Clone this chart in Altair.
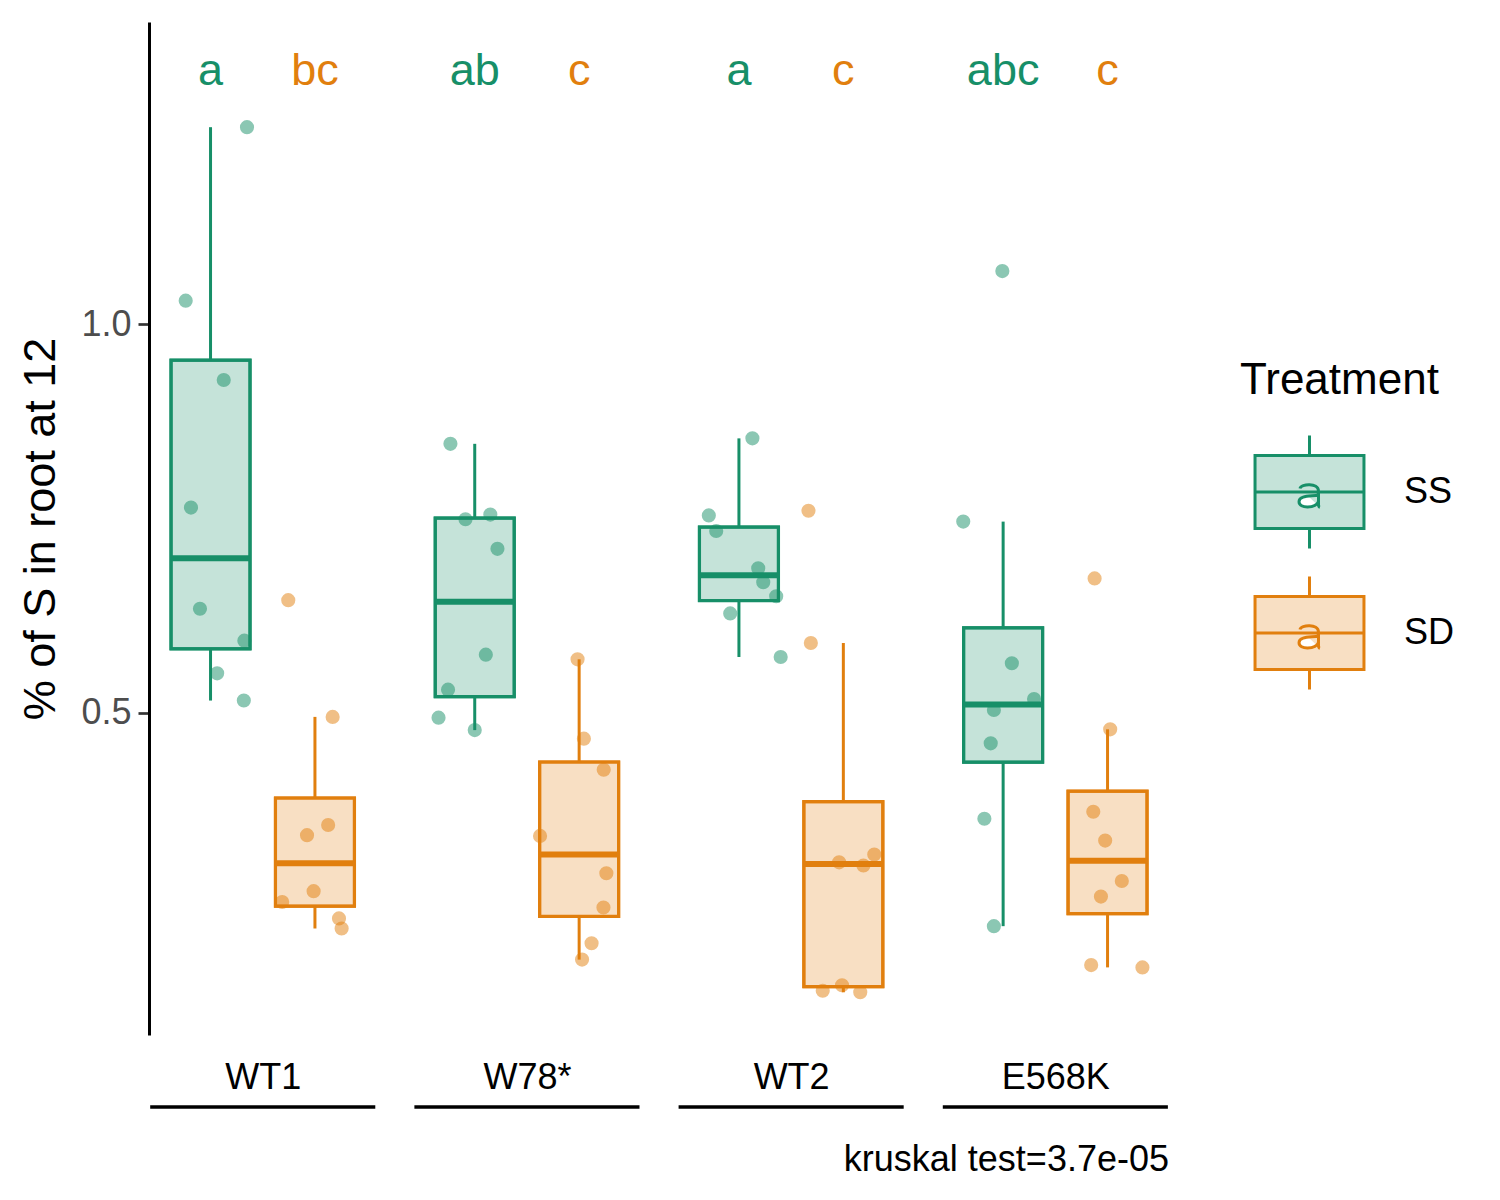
import altair as alt
import pandas as pd
import numpy as np

FONT = "Liberation Sans"

genotypes = ["WT1", "W78*", "WT2", "E568K"]
treatments = ["SS", "SD"]

wt1_ss = [1.253, 1.030, 0.928, 0.764, 0.634, 0.593, 0.551, 0.516]
wt1_ss_jit = [0.138, -0.094, 0.050, -0.074, -0.040, 0.128, 0.025, 0.126]
wt1_sd = [0.645, 0.495, 0.356, 0.343, 0.271, 0.257, 0.236, 0.223]
wt1_sd_jit = [-0.101, 0.067, 0.050, -0.030, -0.005, -0.124, 0.091, 0.101]
w78_ss = [0.846, 0.749, 0.755, 0.711, 0.575, 0.530, 0.494, 0.478]
w78_ss_jit = [-0.092, -0.035, 0.059, 0.086, 0.042, -0.101, -0.137, 0.000]
w78_sd = [0.569, 0.467, 0.427, 0.342, 0.294, 0.250, 0.204, 0.183]
w78_sd_jit = [-0.006, 0.018, 0.093, -0.148, 0.103, 0.092, 0.047, 0.011]
wt2_ss = [0.853, 0.754, 0.734, 0.686, 0.668, 0.650, 0.628, 0.572]
wt2_ss_jit = [0.051, -0.114, -0.086, 0.073, 0.092, 0.141, -0.033, 0.158]
wt2_sd = [0.760, 0.590, 0.308, 0.304, 0.318, 0.143, 0.150, 0.141]
wt2_sd_jit = [-0.132, -0.123, -0.016, 0.076, 0.117, -0.078, -0.005, 0.064]
e568k_ss = [1.068, 0.746, 0.564, 0.518, 0.504, 0.461, 0.364, 0.226]
e568k_ss_jit = [-0.003, -0.151, 0.033, 0.117, -0.035, -0.047, -0.071, -0.035]
e568k_sd = [0.673, 0.479, 0.373, 0.336, 0.284, 0.264, 0.176, 0.173]
e568k_sd_jit = [-0.049, 0.010, -0.054, -0.009, 0.054, -0.025, -0.062, 0.132]

letters_ss = ["a", "ab", "a", "abc"]
letters_sd = ["bc", "c", "c", "c"]
letter_y = 1.307
caption = "kruskal test=3.7e-05"

series = {
    ("WT1", "SS"): (wt1_ss, wt1_ss_jit), ("WT1", "SD"): (wt1_sd, wt1_sd_jit),
    ("W78*", "SS"): (w78_ss, w78_ss_jit), ("W78*", "SD"): (w78_sd, w78_sd_jit),
    ("WT2", "SS"): (wt2_ss, wt2_ss_jit), ("WT2", "SD"): (wt2_sd, wt2_sd_jit),
    ("E568K", "SS"): (e568k_ss, e568k_ss_jit), ("E568K", "SD"): (e568k_sd, e568k_sd_jit),
}
letters = {}
for i, g in enumerate(genotypes):
    letters[(g, "SS")] = letters_ss[i]
    letters[(g, "SD")] = letters_sd[i]

# layout constants (group units)
DODGE = 0.1976
HALF_BOX = 0.1495
HALF_PANEL = 0.426

GREEN, ORANGE = "#178F68", "#E17F0E"
GREEN_L, ORANGE_L = "#C5E3D9", "#F8DFC3"

pt_rows, box_rows, let_rows = [], [], []
for (g, t), (vals, jit) in series.items():
    gi = genotypes.index(g)
    xc = gi + (-DODGE if t == "SS" else DODGE)
    for v, j in zip(vals, jit):
        pt_rows.append(dict(genotype=g, treatment=t, value=v, x=xc + j))
    a = np.array(vals)
    q1, med, q3 = np.percentile(a, [25, 50, 75])
    iqr = q3 - q1
    hi = a[a <= q3 + 1.5 * iqr].max()
    lo = a[a >= q1 - 1.5 * iqr].min()
    box_rows.append(dict(genotype=g, treatment=t, xc=xc, xl=xc - HALF_BOX, xr=xc + HALF_BOX,
                         q1=q1, med=med, q3=q3, lo=lo, hi=hi))
    let_rows.append(dict(genotype=g, treatment=t, xc=xc, ly=letter_y, label=letters[(g, t)]))

pts = pd.DataFrame(pt_rows)
boxes = pd.DataFrame(box_rows)
lets = pd.DataFrame(let_rows)
groups = pd.DataFrame(dict(genotype=genotypes, gl=[i - HALF_PANEL for i in range(4)],
                           gr=[i + HALF_PANEL for i in range(4)]))

xscale = alt.Scale(domain=[-0.4305, 3.4302], nice=False, zero=False)
yscale = alt.Scale(domain=[0.0861, 1.3882], nice=False, zero=False)

label_expr = "[" + ",".join("'%s'" % g for g in genotypes) + "][datum.value]"
xaxis = alt.Axis(values=[0, 1, 2, 3], labelExpr=label_expr, title=None, ticks=False, tickSize=0,
                 domain=False, grid=False, labelFontSize=36, labelColor="black", labelPadding=25,
                 labelFont=FONT, labelFlush=False)
yaxis = alt.Axis(values=[0.5, 1.0], format=".1f", title="% of S in root at 12", titleFontSize=45,
                 titleFontWeight="normal", titleColor="black", titleFont=FONT, titlePadding=17,
                 labelFontSize=36, labelColor="#4D4D4D", labelFont=FONT, labelPadding=7,
                 tickSize=11, tickWidth=2.7, tickColor="#333333", domainColor="black",
                 domainWidth=3, grid=False)


def X(f):
    return alt.X(f, scale=xscale, axis=xaxis)


def Y(f):
    return alt.Y(f, scale=yscale, axis=yaxis)


key_path = ("M-0.801,-0.537H0.801V0.537H-0.801Z"
            "M-0.801,0H0.801"
            "M0,-0.537V-0.831M0,0.537V0.831"
            "M-0.140,-0.051C-0.125,-0.125 0.132,-0.140 0.132,-0.015L0.132,0.184"
            "C0.132,0.206 0.140,0.221 0.154,0.225"
            "M0.132,0.044C0.029,0.066 -0.154,0.044 -0.154,0.143"
            "C-0.154,0.250 0.088,0.243 0.132,0.140")

legend = alt.Legend(title="Treatment", orient="none", legendX=1091, legendY=336.5,
                    symbolType=key_path, symbolSize=136 * 136, symbolStrokeWidth=3,
                    labelFontSize=36, labelFont=FONT, labelColor="black", labelOffset=25,
                    titleFontSize=44, titleFont=FONT, titleFontWeight="normal", titleColor="black",
                    titleLimit=1000, labelLimit=1000,
                    titlePadding=20, rowPadding=8, padding=0, symbolOpacity=1)

fill_scale = alt.Scale(domain=treatments, range=[GREEN_L, ORANGE_L])
stroke_scale = alt.Scale(domain=treatments, range=[GREEN, ORANGE])
color_scale = alt.Scale(domain=treatments, range=[GREEN, ORANGE])
col = alt.Color("treatment:N", scale=color_scale, legend=None)

box_fill = alt.Chart(boxes).mark_bar(strokeWidth=3).encode(
    x=X("xl:Q"), x2="xr:Q", y=Y("q1:Q"), y2="q3:Q",
    fill=alt.Fill("treatment:N", scale=fill_scale, legend=legend),
    stroke=alt.Stroke("treatment:N", scale=stroke_scale, legend=legend),
)

points = alt.Chart(pts).mark_circle(size=200, opacity=0.5).encode(
    x=X("x:Q"), y=Y("value:Q"), color=col
)

box_line = alt.Chart(boxes).mark_bar(filled=False, strokeWidth=3.2).encode(
    x=X("xl:Q"), x2="xr:Q", y=Y("q1:Q"), y2="q3:Q", color=col
)

median = alt.Chart(boxes).mark_rule(strokeWidth=6).encode(
    x=X("xl:Q"), x2="xr:Q", y=Y("med:Q"), color=col
)

whisk_hi = alt.Chart(boxes).mark_rule(strokeWidth=3).encode(
    x=X("xc:Q"), y=Y("q3:Q"), y2="hi:Q", color=col
)
whisk_lo = alt.Chart(boxes).mark_rule(strokeWidth=3).encode(
    x=X("xc:Q"), y=Y("lo:Q"), y2="q1:Q", color=col
)

letter_text = alt.Chart(lets).mark_text(fontSize=45, font=FONT, baseline="alphabetic",
                                        align="center").encode(
    x=X("xc:Q"), y=Y("ly:Q"), text="label:N", color=col
)

group_lines = alt.Chart(groups).mark_rule(color="black", strokeWidth=3.5).encode(
    x=X("gl:Q"), x2="gr:Q", y=alt.value(1085)
)

chart = alt.layer(
    box_fill, points, box_line, whisk_hi, whisk_lo, median, letter_text, group_lines
).properties(
    width=1020, height=1013,
    padding={"left": 141, "top": 14, "right": 300, "bottom": 160},
    autosize=alt.AutoSizeParams(type="none"),
    title=alt.TitleParams(caption, orient="bottom", anchor="end", frame="group",
                          fontSize=36, fontWeight="normal", color="black", font=FONT, offset=34),
).configure(background="white").configure_view(stroke=None, strokeWidth=0)

chart.save("out.html", embed_options={"renderer": "svg", "actions": False})
